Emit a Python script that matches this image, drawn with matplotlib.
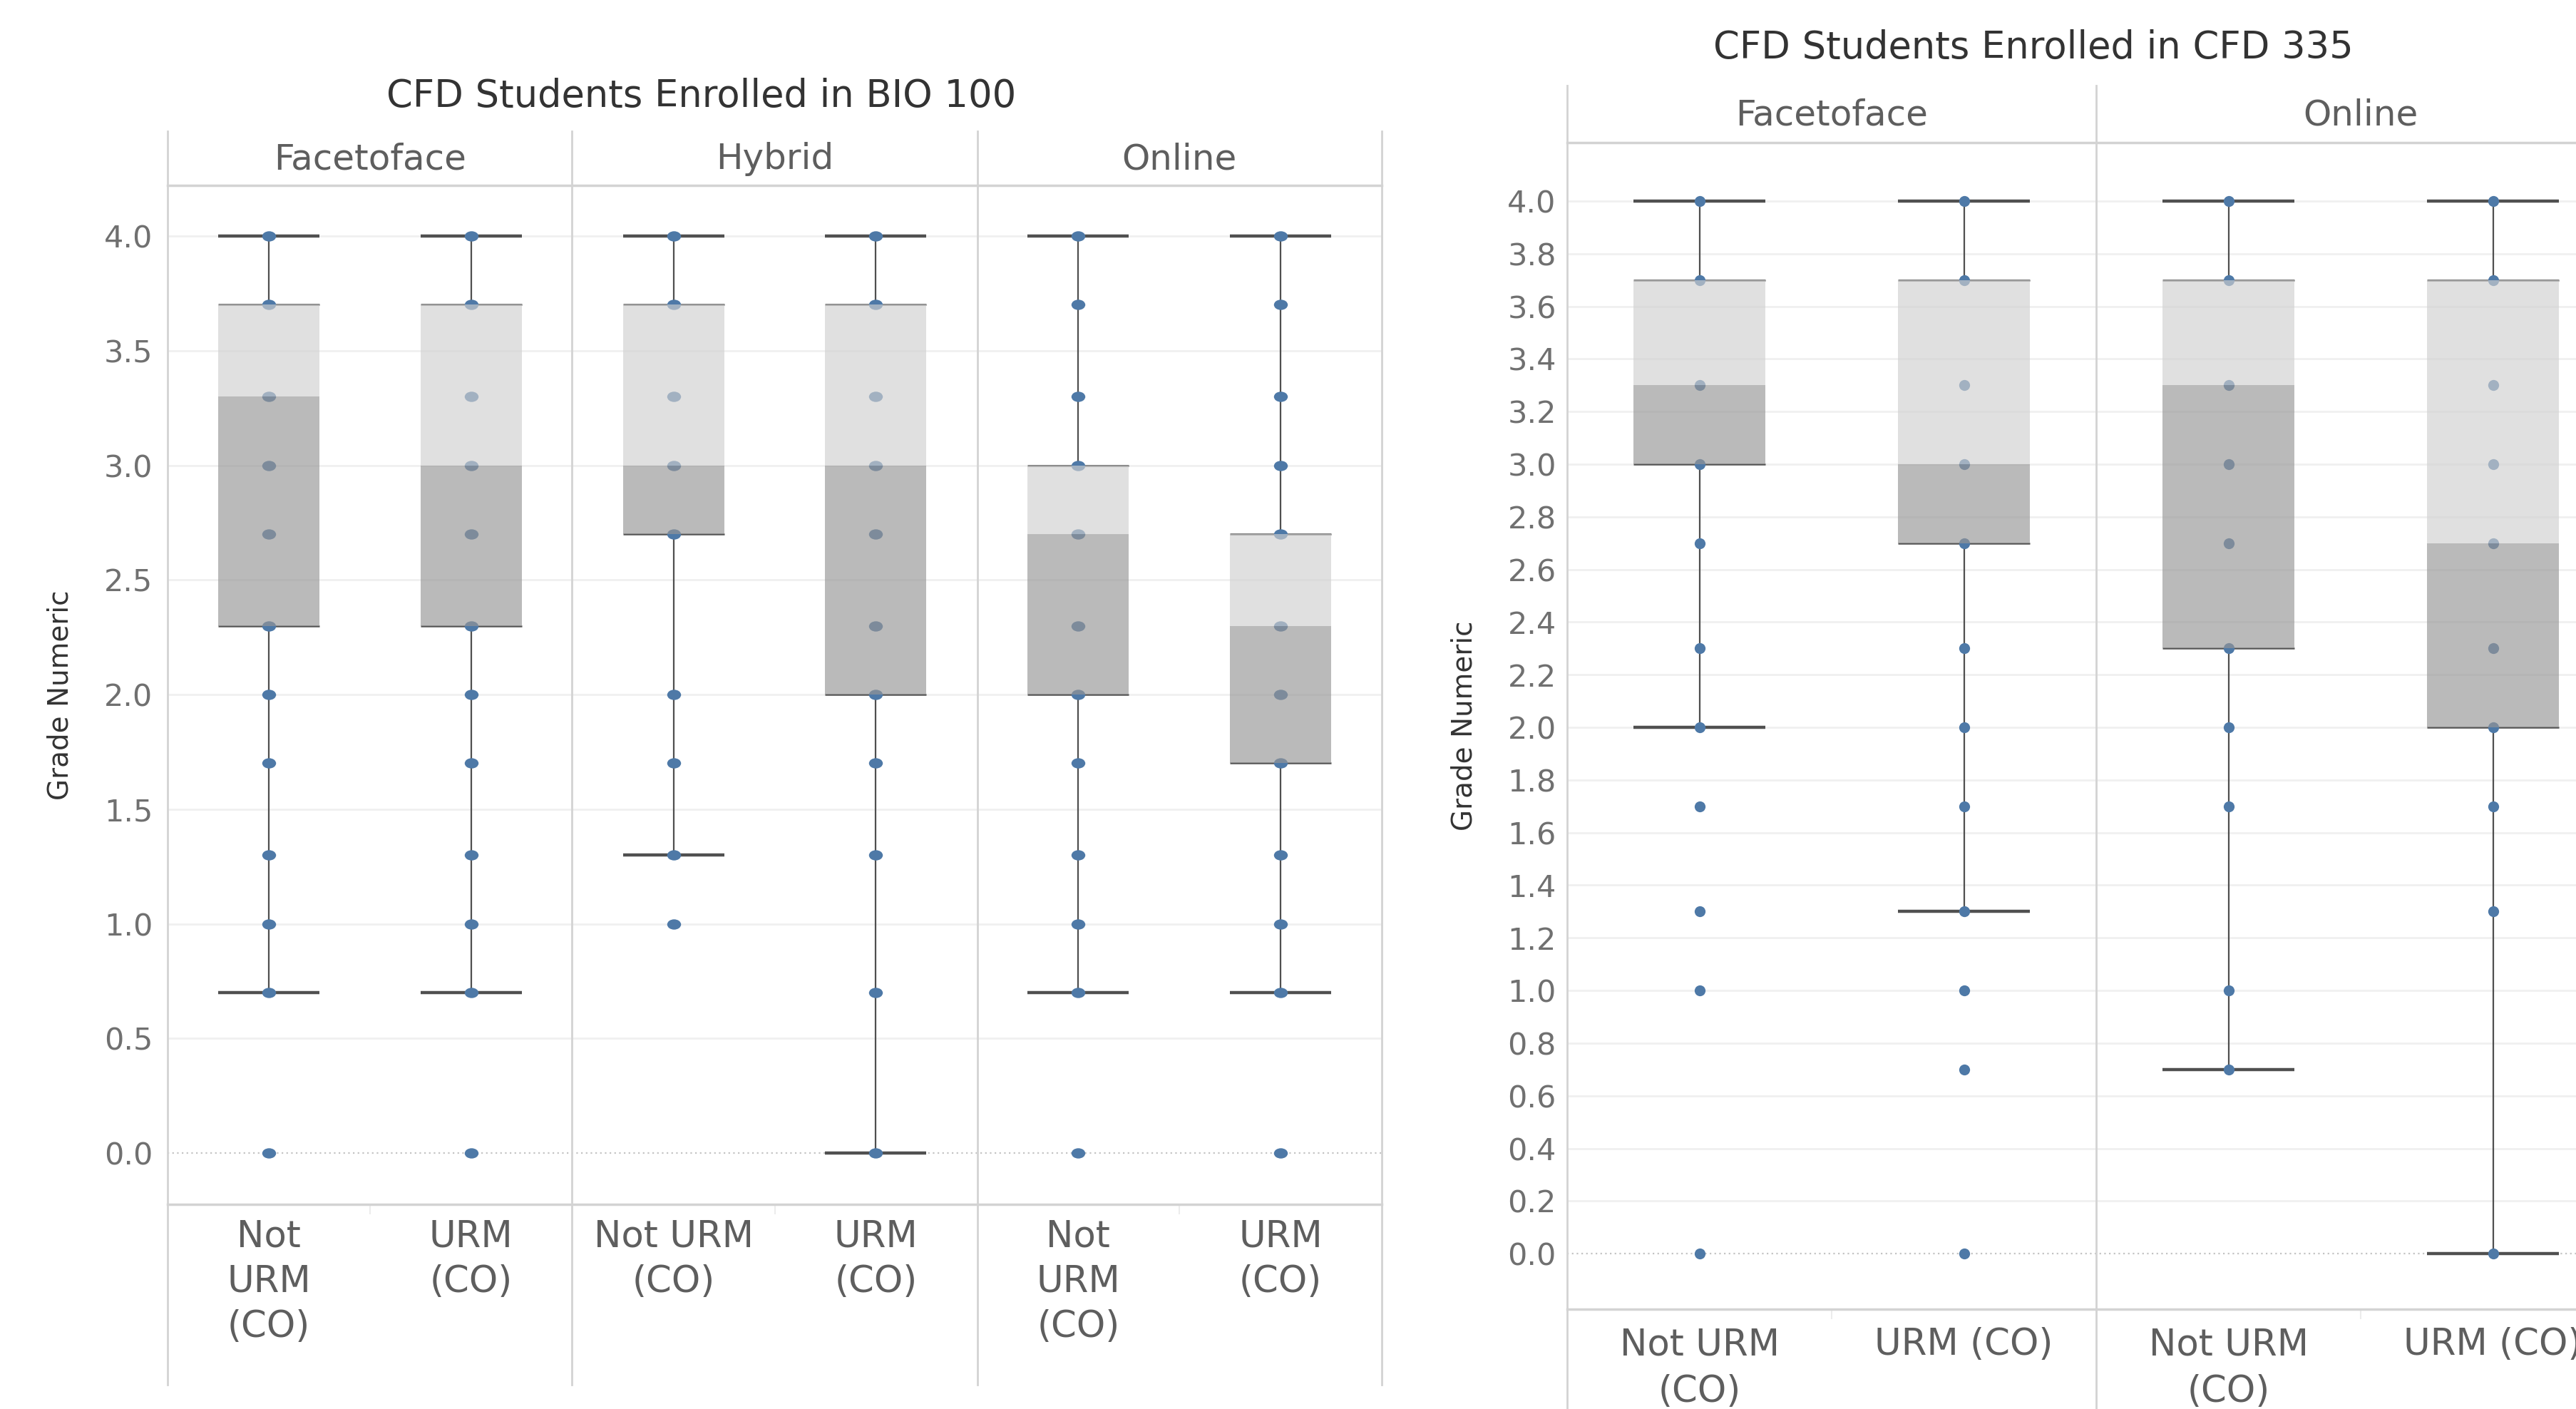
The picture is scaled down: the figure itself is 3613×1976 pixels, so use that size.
import matplotlib
matplotlib.use('Agg')
import matplotlib.pyplot as plt
from matplotlib.lines import Line2D
from matplotlib.path import Path
from matplotlib import transforms

plt.rcParams['font.family'] = ['DejaVu Sans']

W, H = 3613, 1976

# ---- BIO 100 chart data ----
bio_panels = ['Facetoface', 'Hybrid', 'Online']
bio_labels = ['Not\nURM\n(CO)', 'URM\n(CO)', 'Not URM\n(CO)', 'URM\n(CO)', 'Not\nURM\n(CO)', 'URM\n(CO)']
bio_lo = [0.7, 0.7, 1.3, 0.0, 0.7, 0.7]
bio_q1 = [2.3, 2.3, 2.7, 2.0, 2.0, 1.7]
bio_med = [3.3, 3.0, 3.0, 3.0, 2.7, 2.3]
bio_q3 = [3.7, 3.7, 3.7, 3.7, 3.0, 2.7]
bio_hi = [4.0, 4.0, 4.0, 4.0, 4.0, 4.0]
bio_points = [
    [4.0, 3.7, 3.3, 3.0, 2.7, 2.3, 2.0, 1.7, 1.3, 1.0, 0.7, 0.0],
    [4.0, 3.7, 3.3, 3.0, 2.7, 2.3, 2.0, 1.7, 1.3, 1.0, 0.7, 0.0],
    [4.0, 3.7, 3.3, 3.0, 2.7, 2.0, 1.7, 1.3, 1.0],
    [4.0, 3.7, 3.3, 3.0, 2.7, 2.3, 2.0, 1.7, 1.3, 0.7, 0.0],
    [4.0, 3.7, 3.3, 3.0, 2.7, 2.3, 2.0, 1.7, 1.3, 1.0, 0.7, 0.0],
    [4.0, 3.7, 3.3, 3.0, 2.7, 2.3, 2.0, 1.7, 1.3, 1.0, 0.7, 0.0],
]
bio_yticks = [0.0, 0.5, 1.0, 1.5, 2.0, 2.5, 3.0, 3.5, 4.0]

# ---- CFD 335 chart data ----
cfd_panels = ['Facetoface', 'Online']
cfd_labels = ['Not URM\n(CO)', 'URM (CO)', 'Not URM\n(CO)', 'URM (CO)']
cfd_lo = [2.0, 1.3, 0.7, 0.0]
cfd_q1 = [3.0, 2.7, 2.3, 2.0]
cfd_med = [3.3, 3.0, 3.3, 2.7]
cfd_q3 = [3.7, 3.7, 3.7, 3.7]
cfd_hi = [4.0, 4.0, 4.0, 4.0]
cfd_points = [
    [4.0, 3.7, 3.3, 3.0, 2.7, 2.3, 2.0, 1.7, 1.3, 1.0, 0.0],
    [4.0, 3.7, 3.3, 3.0, 2.7, 2.3, 2.0, 1.7, 1.3, 1.0, 0.7, 0.0],
    [4.0, 3.7, 3.3, 3.0, 2.7, 2.3, 2.0, 1.7, 1.0, 0.7],
    [4.0, 3.7, 3.3, 3.0, 2.7, 2.3, 2.0, 1.7, 1.3, 0.0],
]
cfd_yticks = [round(0.2 * i, 1) for i in range(21)]

DOT = '#4e79a7'
LIGHT = '#d0d0d0'
DARK = '#969696'
FRAME = '#d3d3d3'

fig = plt.figure(figsize=(W / 100, H / 100), dpi=100)


def fx(x):
    return x / W


def fy(y):
    return 1 - y / H


def fig_line(x0, y0, x1, y1, color=FRAME, lw=2.0):
    fig.add_artist(Line2D([fx(x0), fx(x1)], [fy(y0), fy(y1)], color=color, lw=lw,
                          transform=fig.transFigure))


def draw_chart(box, ylim, panels, labels, lo, q1, med, q3, hi, points, yticks,
               marker, ms, title, title_xy, header_y, label_pad, ticklab_pad, spacing):
    left, top, right, bottom = box
    ax = fig.add_axes([fx(left), fy(bottom), fx(right - left), (bottom - top) / H])
    n = len(labels)
    xs = [i + 0.5 for i in range(n)]
    bw = 0.5
    for i, x in enumerate(xs):
        # whiskers stop at the box
        ax.vlines(x, lo[i], q1[i], color='#4f4f4f', lw=1.6, zorder=2)
        ax.vlines(x, q3[i], hi[i], color='#4f4f4f', lw=1.6, zorder=2)
        ax.hlines([lo[i], hi[i]], x - bw / 2, x + bw / 2, color='#505050', lw=3.2, zorder=2)
        ax.hlines([q1[i], q3[i]], x - bw / 2, x + bw / 2, color='#555555', lw=1.8, zorder=2)
        ax.plot([x] * len(points[i]), points[i], linestyle='none', marker=marker,
                ms=ms, mew=0, color=DOT, zorder=3)
        ax.bar(x, med[i] - q1[i], bottom=q1[i], width=bw, color=DARK, alpha=0.655,
               lw=0, zorder=4)
        ax.bar(x, q3[i] - med[i], bottom=med[i], width=bw, color=LIGHT, alpha=0.655,
               lw=0, zorder=4)

    ax.set_xlim(0, n)
    ax.set_ylim(*ylim)
    ax.set_yticks(yticks)
    ax.set_yticklabels(['%.1f' % v for v in yticks])
    ax.set_xticks(xs)
    ax.set_xticklabels(labels, linespacing=spacing)
    ax.tick_params(axis='y', length=0, pad=ticklab_pad, labelsize=31, labelcolor='#707070')
    ax.tick_params(axis='x', length=0, pad=label_pad, labelsize=37, labelcolor='#5e5e5e')
    ax.grid(axis='y', color='#f0f0f0', lw=2.0, zorder=0)
    for g, v in zip(ax.get_ygridlines(), yticks):
        if v == 0:
            g.set_visible(False)
    ax.axhline(0, color='#c4c4c4', lw=1.6, ls=(0, (1, 2)), zorder=1)
    for s in ax.spines.values():
        s.set_visible(False)
    ax.set_ylabel('Grade Numeric', fontsize=28, color='#333333', labelpad=30)

    # panel headers and short ticks between categories
    trans = transforms.blended_transform_factory(ax.transData, fig.transFigure)
    for p, name in enumerate(panels):
        ax.text(2 * p + 1, fy(header_y), name, transform=trans, ha='center', va='center',
                fontsize=36, color='#5e5e5e')
        ax.vlines(2 * p + 1, fy(bottom + 14), fy(bottom), transform=trans, color='#ececec',
                  lw=1.5, clip_on=False)
    fig.text(fx(title_xy[0]), fy(title_xy[1]), title, ha='center', va='center',
             fontsize=38, color='#333333')
    return ax


# the BIO 100 view is drawn a little wider than tall, so its dots are ellipses
circle = Path.unit_circle()
ellipse = Path(circle.vertices * [1.35, 1.0], circle.codes)

# left chart: BIO 100
ax1 = draw_chart((235, 260, 1938, 1689), (-0.224, 4.221), bio_panels, bio_labels,
                 bio_lo, bio_q1, bio_med, bio_q3, bio_hi, bio_points, bio_yticks,
                 ellipse, 14, 'CFD Students Enrolled in BIO 100', (984, 135), 223, 15, 15, 1.33)
for x in [235, 802, 1371, 1938]:
    fig_line(x, 184, x, 1942)
fig_line(235, 260, 1938, 260, lw=2.5)
fig_line(235, 1689, 1938, 1689, lw=2.5)

# right chart: CFD 335 (last column runs past the picture edge, as in the source)
ax2 = draw_chart((2198, 200, 3682, 1836), (-0.211, 4.222), cfd_panels, cfd_labels,
                 cfd_lo, cfd_q1, cfd_med, cfd_q3, cfd_hi, cfd_points, cfd_yticks,
                 'o', 11, 'CFD Students Enrolled in CFD 335', (2852, 67), 162, 18, 11, 1.4)
for x in [2198, 2940]:
    fig_line(x, 120, x, 1976)
fig_line(2198, 200, 3613, 200, lw=2.5)
fig_line(2198, 1836, 3613, 1836, lw=2.5)

fig.savefig('out.png', dpi=100, facecolor='white')
